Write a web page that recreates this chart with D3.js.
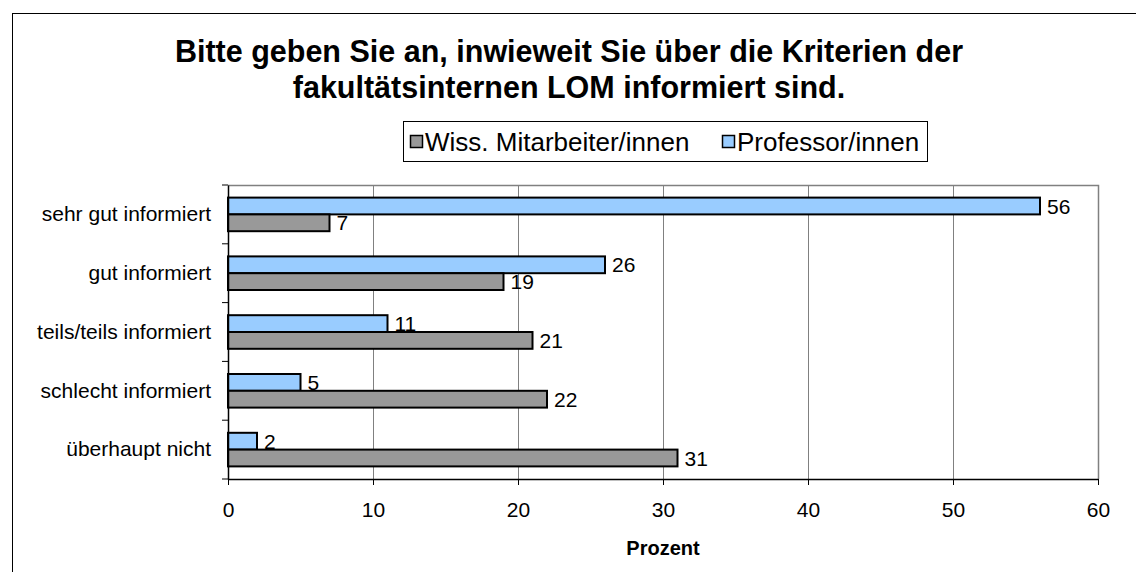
<!DOCTYPE html>
<html><head><meta charset="utf-8">
<script src="https://cdn.jsdelivr.net/npm/d3@7"></script>
<style>body{margin:0;background:#fff}svg{display:block;font-family:Arial,"Liberation Sans",sans-serif}</style>
</head><body><svg id="c" width="1136" height="572"></svg>
<script>
const categories = ["sehr gut informiert","gut informiert","teils/teils informiert","schlecht informiert","überhaupt nicht"];
const seriesNames = ["Professor/innen","Wiss. Mitarbeiter/innen"];
const profValues = [56,26,11,5,2];
const wissValues = [7,19,21,22,31];
const xTicks = [0,10,20,30,40,50,60];
const titleLines = ["Bitte geben Sie an, inwieweit Sie über die Kriterien der","fakultätsinternen LOM informiert sind."];
const axisTitle = "Prozent";
const colors = {"Professor/innen":"#99CCFF","Wiss. Mitarbeiter/innen":"#999999"};
const FONT = "Arial, 'Liberation Sans', sans-serif";

const svg = d3.select("#c");
svg.append("rect").attr("x",12.5).attr("y",13.5).attr("width",1140).attr("height",580).attr("fill","#fff").attr("stroke","#000").attr("stroke-width",1);

const L=228, R=1098, T=185, B=479;
const x = d3.scaleLinear().domain([0,60]).range([L,R]);
const y = d3.scaleBand().domain(categories).range([T,B]);
const inner = d3.scaleBand().domain(seriesNames).range([0,y.bandwidth()]).paddingInner(0).paddingOuter(0.75);

svg.append("g").selectAll("line").data(xTicks.slice(1)).join("line")
  .attr("x1",d=>x(d)+0.5).attr("x2",d=>x(d)+0.5).attr("y1",T).attr("y2",B)
  .attr("stroke","#808080").attr("stroke-width",1);
svg.append("path").attr("d",`M${L},${T+0.5}H${R+0.5}V${B}`).attr("fill","none").attr("stroke","#808080").attr("stroke-width",1.5);

const data = [];
categories.forEach((c,i)=>{
  data.push({c,s:"Professor/innen",v:profValues[i]});
  data.push({c,s:"Wiss. Mitarbeiter/innen",v:wissValues[i]});
});
svg.append("g").selectAll("rect").data(data).join("rect")
  .attr("x",x(0)).attr("y",d=>y(d.c)+inner(d.s))
  .attr("width",d=>x(d.v)-x(0)).attr("height",inner.bandwidth())
  .attr("fill",d=>colors[d.s]).attr("stroke","#000").attr("stroke-width",2);
svg.append("g").selectAll("text").data(data).join("text")
  .attr("x",d=>x(d.v)+7).attr("y",d=>y(d.c)+inner(d.s)+inner.bandwidth()/2)
  .attr("dy","0.36em").attr("font-size",21).attr("fill","#000").text(d=>d.v);

const xa = svg.append("g").attr("transform",`translate(0,${B})`)
  .call(d3.axisBottom(x).tickValues(xTicks).tickSize(6).tickPadding(17).tickSizeOuter(0));
xa.select(".domain").attr("stroke","#000").attr("stroke-width",1.5);
xa.selectAll(".tick line").attr("stroke","#000");
xa.selectAll("text").attr("font-size",21).attr("font-family",FONT).attr("fill","#000");

const ya = svg.append("g").attr("transform",`translate(${L},0)`)
  .call(d3.axisLeft(y).tickSize(0).tickPadding(17));
ya.select(".domain").attr("stroke","#000").attr("stroke-width",1.5);
ya.selectAll("text").attr("font-size",21).attr("font-family",FONT).attr("fill","#000");
const bounds = categories.map(c=>y(c)).concat([B]);
svg.append("g").selectAll("line").data(bounds).join("line")
  .attr("x1",L-6).attr("x2",L).attr("y1",d=>d).attr("y2",d=>d).attr("stroke","#000");

svg.append("text").attr("x",(L+R)/2).attr("y",555).attr("text-anchor","middle")
  .attr("font-size",20).attr("font-weight","bold").text(axisTitle);

svg.append("g").selectAll("text").data(titleLines).join("text")
  .attr("x",569).attr("y",(d,i)=>62+i*36).attr("text-anchor","middle")
  .attr("font-size",30.5).attr("font-weight","bold").text(d=>d);

const lg = svg.append("g");
lg.append("rect").attr("x",403.5).attr("y",121.5).attr("width",524).attr("height",40).attr("fill","#fff").attr("stroke","#000");
const legendItems = ["Wiss. Mitarbeiter/innen","Professor/innen"];
const lx = [410,722];
legendItems.forEach((s,i)=>{
  lg.append("rect").attr("x",lx[i]+0.5).attr("y",135.5).attr("width",12).attr("height",12).attr("fill",colors[s]).attr("stroke","#000").attr("stroke-width",1.5);
  lg.append("text").attr("x",lx[i]+15).attr("y",151).attr("font-size",26).text(s);
});
</script></body></html>
